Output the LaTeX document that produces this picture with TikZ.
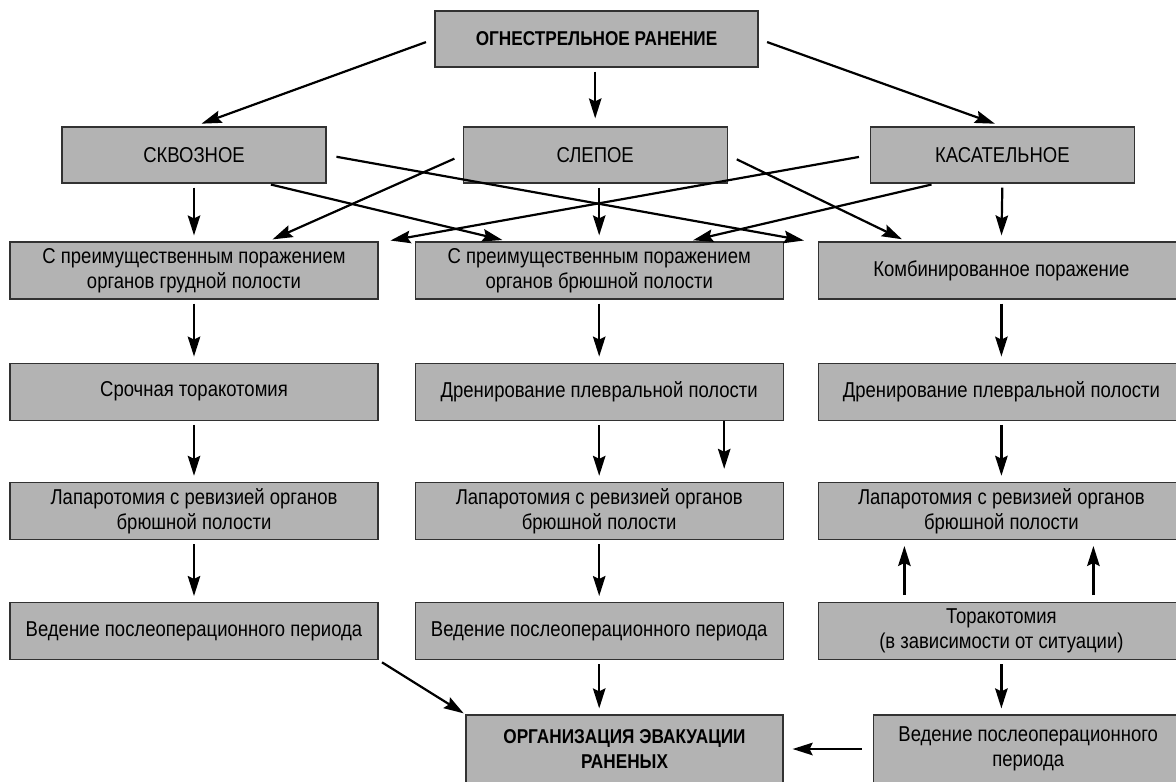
\documentclass[tikz,border=0pt]{standalone}
\usepackage{fontspec}
\setmainfont[FakeStretch=0.86]{Liberation Sans}
\usetikzlibrary{positioning, arrows.meta}
\definecolor{box_grey}{RGB}{179,179,179}
\definecolor{edge_grey}{RGB}{50,50,50}

\tikzset{
  stepbox/.style={draw=edge_grey, line width=1.2pt, rectangle, fill=box_grey, align=center,
    minimum height=57pt, inner sep=2pt, font=\fontsize{21.5}{25}\selectfont},
  flow/.style={->, line width=2.2pt, shorten <=4pt, shorten >=6pt},
}

\begin{document}
\begin{tikzpicture}[x=1pt, y=-1pt, >={Stealth[length=20pt, width=12.5pt, inset=3pt]}]

    \useasboundingbox (0,0) rectangle (1176,782);
    \clip (0,0) rectangle (1176,782);

    % --- Begin Wound Types ---
    \node [stepbox, minimum width=323pt, minimum height=56pt, font=\fontsize{20}{25}\selectfont\bfseries] at (596.5,39) (Wound) {ОГНЕСТРЕЛЬНОЕ РАНЕНИЕ};

    \node [stepbox, minimum width=264pt, minimum height=56pt] at (194,155) (Through) {СКВОЗНОЕ};
    \node [stepbox, minimum width=264pt, minimum height=56pt, right=136pt of Through] (Blind) {СЛЕПОЕ};
    \node [stepbox, minimum width=264pt, minimum height=56pt, right=142pt of Blind] (Tangent) {КАСАТЕЛЬНОЕ};
    % --- End Wound Types ---

    % --- Begin Left Column ---
    \node [stepbox, minimum width=368pt] at (194,270.5) (chest_lesion) {С преимущественным поражением\\органов грудной полости};
    \node [stepbox, minimum width=368pt, below=63pt of chest_lesion] (chest_thoracotomy) {Срочная торакотомия};
    \node [stepbox, minimum width=368pt, below=61pt of chest_thoracotomy] (chest_laparotomy) {Лапаротомия с ревизией органов\\брюшной полости};
    \node [stepbox, minimum width=368pt, below=62pt of chest_laparotomy] (chest_aftercare) {Ведение послеоперационного периода};
    % --- End Left Column ---

    % --- Begin Middle Column ---
    \node [stepbox, minimum width=368pt, right=36pt of chest_lesion] (belly_lesion) {С преимущественным поражением\\органов брюшной полости};
    \node [stepbox, minimum width=368pt, below=63pt of belly_lesion] (belly_drainage) {Дренирование плевральной полости};
    \node [stepbox, minimum width=368pt, below=61pt of belly_drainage] (belly_laparotomy) {Лапаротомия с ревизией органов\\брюшной полости};
    \node [stepbox, minimum width=368pt, below=62pt of belly_laparotomy] (belly_aftercare) {Ведение послеоперационного периода};
    % --- End Middle Column ---

    % --- Begin Right Column ---
    \node [stepbox, minimum width=366pt, right=34pt of belly_lesion] (mixed_lesion) {Комбинированное поражение};
    \node [stepbox, minimum width=366pt, below=63pt of mixed_lesion] (mixed_drainage) {Дренирование плевральной полости};
    \node [stepbox, minimum width=366pt, below=61pt of mixed_drainage] (mixed_laparotomy) {Лапаротомия с ревизией органов\\брюшной полости};
    \node [stepbox, minimum width=366pt, below=62pt of mixed_laparotomy] (mixed_thoracotomy) {Торакотомия\\(в зависимости от ситуации)};
    % --- End Right Column ---

    % --- Begin Bottom Row ---
    \node [stepbox, minimum width=317pt, minimum height=68pt, font=\fontsize{20}{25}\selectfont\bfseries] at (624.5,749) (Evacuation) {ОРГАНИЗАЦИЯ ЭВАКУАЦИИ\\РАНЕНЫХ};
    \node [stepbox, minimum width=310pt, minimum height=68pt, right=89pt of Evacuation] (mixed_aftercare) {Ведение послеоперационного\\периода};
    % --- End Bottom Row ---

    % Connect the wound types.
    \draw[flow, shorten <=9pt, shorten >=8pt] (Wound.west) -- (Through.north);
    \draw[flow, shorten >=8pt] (Wound.south -| Blind.north) -- (Blind.north);
    \draw[flow, shorten <=9pt, shorten >=8pt] (Wound.east) -- (Tangent.north);

    % Connect the wound types to the lesions.
    \draw[flow] (Through.south) -- (chest_lesion.north);
    \draw[flow] ([xshift=73pt]Through.south) -- ([xshift=-91pt]belly_lesion.north);
    \draw[flow, shorten <=10pt, shorten >=5pt] (Through.east) -- ([xshift=-9pt]mixed_lesion.north west);
    \draw[flow, shorten <=9pt, shorten >=5pt] (Blind.west) -- ([xshift=74pt]chest_lesion.north);
    \draw[flow] (Blind.south -| belly_lesion.north) -- (belly_lesion.north);
    \draw[flow, shorten <=10pt, shorten >=5pt] (Blind.east) -- ([xshift=-95pt]mixed_lesion.north);
    \draw[flow, shorten <=11pt, shorten >=5pt] (Tangent.west) -- ([xshift=7pt]chest_lesion.north east);
    \draw[flow, shorten >=5pt] ([xshift=-67pt]Tangent.south) -- ([xshift=89pt]belly_lesion.north);
    \draw[flow] (Tangent.south) -- (mixed_lesion.north);

    % Connect the columns.
    \draw[flow] (chest_lesion) -- (chest_thoracotomy);
    \draw[flow] (chest_thoracotomy) -- (chest_laparotomy);
    \draw[flow] (chest_laparotomy) -- (chest_aftercare);
    \draw[flow] (belly_lesion) -- (belly_drainage);
    \draw[flow] (belly_drainage) -- (belly_laparotomy);
    \draw[flow, shorten <=0pt, shorten >=13pt] ([xshift=125pt]belly_drainage.south) -- ([xshift=125pt]belly_laparotomy.north);
    \draw[flow] (belly_laparotomy) -- (belly_aftercare);
    \draw[flow] (mixed_lesion) -- (mixed_drainage);
    \draw[flow] (mixed_drainage) -- (mixed_laparotomy);
    \draw[flow, shorten <=7pt] ([xshift=-97pt]mixed_thoracotomy.north) -- ([xshift=-97pt]mixed_laparotomy.south);
    \draw[flow, shorten <=7pt] ([xshift=92pt]mixed_thoracotomy.north) -- ([xshift=92pt]mixed_laparotomy.south);
    \draw[flow] (mixed_thoracotomy.south) -- (mixed_thoracotomy.south |- mixed_aftercare.north);

    % Connect to the evacuation.
    \draw[flow, shorten >=2pt] (chest_aftercare.south east) -- (Evacuation.north west);
    \draw[flow] (belly_aftercare.south) -- (belly_aftercare.south |- Evacuation.north);
    \draw[flow, shorten <=11pt, shorten >=9pt] (mixed_aftercare.west) -- (Evacuation.east);

\end{tikzpicture}
\end{document}
